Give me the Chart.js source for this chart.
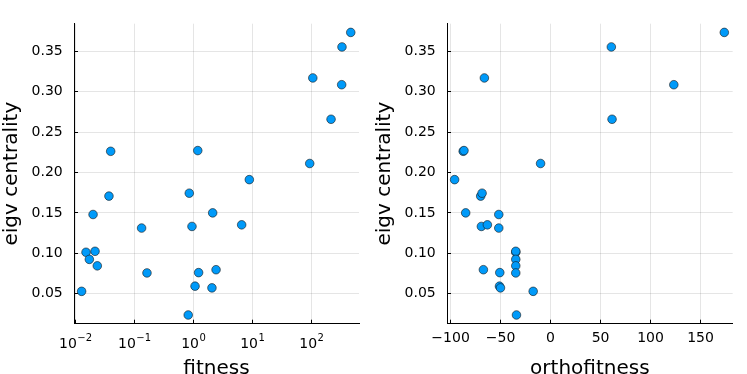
<!DOCTYPE html>
<html>
<head>
<meta charset="utf-8">
<script src="https://cdn.jsdelivr.net/npm/chart.js@4.4.0/dist/chart.umd.min.js"></script>
<style>
html, body { margin: 0; padding: 0; background: #fff; overflow: hidden; }
#wrap { position: relative; width: 747px; height: 374px; overflow: hidden; }
canvas { position: absolute; top: 0; }
</style>
</head>
<body>
<div id="wrap">
  <canvas id="fitChart" width="373" height="400" style="left:0"></canvas>
  <canvas id="orthoChart" width="374" height="400" style="left:373px"></canvas>
</div>
<script>
// one entry per gene / node
var centrality = [0.3736, 0.3556, 0.3172, 0.3088, 0.266, 0.2263, 0.2272, 0.2112, 0.1912,
                  0.1708, 0.1744, 0.148, 0.150, 0.1312, 0.1332, 0.1352, 0.1012, 0.1024,
                  0.0924, 0.0844, 0.0756, 0.076, 0.0796, 0.0528, 0.0592, 0.0571, 0.0235];
var fitness = [466, 331, 106, 327, 216, 0.0398, 1.19, 94, 8.9,
               0.0372, 0.855, 0.020, 2.13, 0.133, 0.95, 6.6, 0.0152, 0.0216,
               0.0173, 0.0236, 0.164, 1.23, 2.43, 0.0128, 1.07, 2.07, 0.82];
var orthofitness = [173.8, 60.8, -66.2, 123.3, 61.5, -87.4, -86.6, -10, -96,
                    -69.9, -68.5, -51.8, -84.9, -51.8, -69.2, -63.2, -34.8, -34.8,
                    -34.8, -34.8, -34.8, -50.8, -67.2, -17.4, -51.1, -50.1, -34.1];

var yTicks = [0.05, 0.10, 0.15, 0.20, 0.25, 0.30, 0.35];
var fitnessTicks = [0.01, 0.1, 1, 10, 100];
var orthoTicks = [-100, -50, 0, 50, 100, 150];

Chart.defaults.font.family = 'DejaVu Sans';
Chart.defaults.color = '#000';

function pointsFor(xs) {
    return xs.map(function (x, i) { return {x: x, y: centrality[i]}; });
}

function setTicks(list) {
    return function (scale) {
        scale.ticks = list.map(function (v) { return {value: v}; });
    };
}

function minus(v) {
    return v < 0 ? '\u2212' + Math.abs(v) : String(v);
}

// draws 10^n labels with a real raised exponent under the log axis
var powerLabels = {
    id: 'powerLabels',
    afterDraw: function (chart) {
        var s = chart.scales.x;
        var ctx = chart.ctx;
        ctx.save();
        ctx.fillStyle = '#000';
        ctx.textBaseline = 'alphabetic';
        ctx.textAlign = 'left';
        fitnessTicks.forEach(function (v) {
            var base = '10';
            var exp = minus(Math.round(Math.log10(v)));
            ctx.font = '14px "DejaVu Sans"';
            var wb = ctx.measureText(base).width;
            ctx.font = '10px "DejaVu Sans"';
            var we = ctx.measureText(exp).width;
            var left = s.getPixelForValue(v) - (wb + we) / 2;
            ctx.font = '14px "DejaVu Sans"';
            ctx.fillText(base, left, s.top + 24.6);
            ctx.font = '10px "DejaVu Sans"';
            ctx.fillText(exp, left + wb + 0.5, s.top + 16.8);
        });
        ctx.restore();
    }
};

var gridStyle = {color: 'rgba(0,0,0,0.1)', lineWidth: 1, tickColor: '#000', tickWidth: 1, tickLength: -4};

function makeChart(id, xs, xScale, rightPad, plugins) {
    return new Chart(document.getElementById(id).getContext('2d'), {
        type: 'scatter',
        data: {
            datasets: [{
                data: pointsFor(xs),
                backgroundColor: '#009af9',
                borderColor: 'rgba(20,20,20,0.85)',
                borderWidth: 0.7,
                pointRadius: 4.3
            }]
        },
        plugins: plugins,
        options: {
            responsive: false,
            animation: false,
            layout: {padding: {left: 0, right: rightPad, top: 14, bottom: 0}},
            plugins: {legend: {display: false}, tooltip: {enabled: false}},
            scales: {
                x: xScale,
                y: {
                    min: 0.0127,
                    max: 0.3844,
                    afterBuildTicks: setTicks(yTicks),
                    afterFit: function (s) { s.width = 74; },
                    ticks: {
                        font: {size: 14},
                        padding: 15.3,
                        callback: function (v) { return Number(v).toFixed(2); }
                    },
                    grid: gridStyle,
                    border: {color: '#000', width: 1},
                    title: {display: true, text: 'eigv centrality', font: {size: 20}, padding: {top: 0, bottom: 0}}
                }
            }
        }
    });
}

makeChart('fitChart', fitness, {
    type: 'logarithmic',
    min: 0.00951,
    max: 643,
    afterBuildTicks: setTicks(fitnessTicks),
    afterFit: function (s) { s.height = 76.3; },
    ticks: {display: false},
    grid: gridStyle,
    border: {color: '#000', width: 1},
    title: {display: true, text: 'fitness', font: {size: 20}, padding: {top: 0, bottom: 19.2}}
}, 14, [powerLabels]);

makeChart('orthoChart', orthofitness, {
    type: 'linear',
    min: -103.6,
    max: 182.2,
    afterBuildTicks: setTicks(orthoTicks),
    afterFit: function (s) { s.height = 76.3; },
    ticks: {
        font: {size: 14},
        padding: 10.2,
        maxRotation: 0,
        autoSkip: false,
        callback: minus
    },
    grid: gridStyle,
    border: {color: '#000', width: 1},
    title: {display: true, text: 'orthofitness', font: {size: 20}, padding: {top: 0, bottom: 19.2}}
}, 14.3, []);
</script>
</body>
</html>
